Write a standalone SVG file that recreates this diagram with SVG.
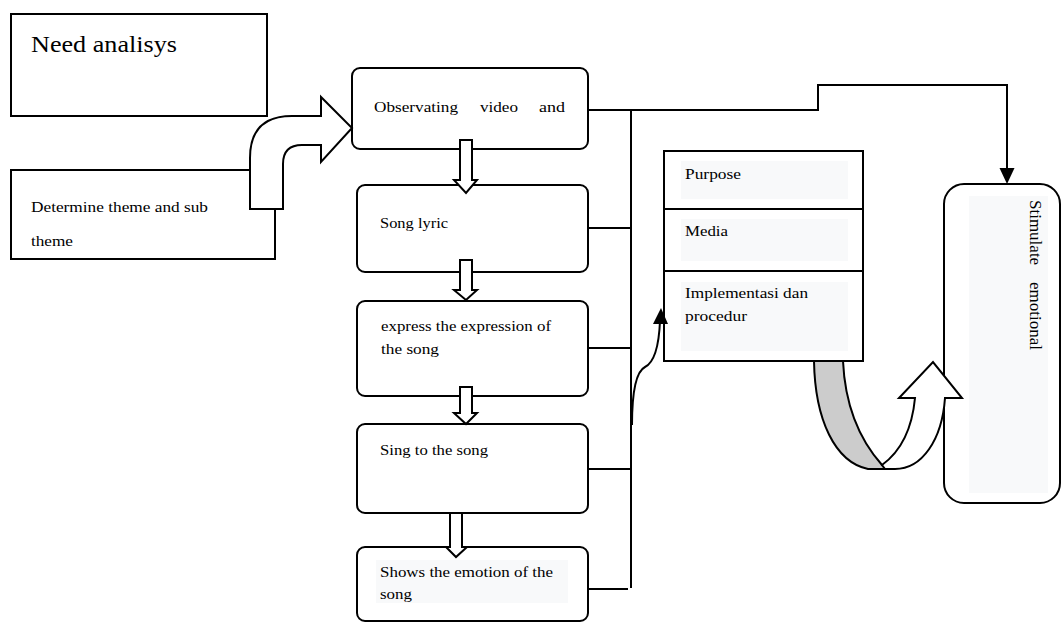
<svg xmlns="http://www.w3.org/2000/svg" width="1064" height="624" viewBox="0 0 1064 624">
<style>
.box{fill:#fff;stroke:#000;stroke-width:2}
.bg{fill:#f8f9fa}
.t{font-family:"Liberation Serif","Times New Roman",serif;fill:#000}
.ln{fill:none;stroke:#000;stroke-width:2}
.blk{fill:#fff;stroke:#000;stroke-width:2;stroke-linejoin:miter}
.head{fill:#000;stroke:none}
</style>

<g id="need-analysis">
<rect class="box" x="11" y="14" width="256" height="102"/>
<text class="t" x="31" y="52" font-size="23" textLength="146" lengthAdjust="spacingAndGlyphs">Need analisys</text>
</g>

<g id="determine">
<rect class="box" x="11" y="170" width="264" height="89"/>
<text class="t" x="31" y="212" font-size="14.5" textLength="177" lengthAdjust="spacingAndGlyphs">Determine theme and sub</text>
<text class="t" x="31" y="246" font-size="14.5" textLength="42" lengthAdjust="spacingAndGlyphs">theme</text>
</g>

<g id="observing">
<rect class="box" x="352" y="68" width="236" height="81" rx="8"/>
<text class="t" x="374" y="112" font-size="15.5" textLength="84" lengthAdjust="spacingAndGlyphs">Observating</text>
<text class="t" x="480" y="112" font-size="15.5" textLength="38" lengthAdjust="spacingAndGlyphs">video</text>
<text class="t" x="539" y="112" font-size="15.5" textLength="26" lengthAdjust="spacingAndGlyphs">and</text>
</g>

<g id="song-lyric">
<rect class="box" x="357" y="185" width="231" height="87" rx="8"/>
<text class="t" x="380" y="228" font-size="15.5" textLength="68" lengthAdjust="spacingAndGlyphs">Song lyric</text>
</g>

<g id="express">
<rect class="box" x="357" y="301" width="231" height="95" rx="8"/>
<text class="t" x="381" y="331" font-size="15.5" textLength="170" lengthAdjust="spacingAndGlyphs">express the expression of</text>
<text class="t" x="381" y="354" font-size="15.5" textLength="58" lengthAdjust="spacingAndGlyphs">the song</text>
</g>

<g id="sing">
<rect class="box" x="357" y="424" width="231" height="89" rx="8"/>
<text class="t" x="380" y="455" font-size="15.5" textLength="108" lengthAdjust="spacingAndGlyphs">Sing to the song</text>
</g>

<g id="shows">
<rect class="box" x="357" y="547" width="231" height="74" rx="8"/>
<rect class="bg" x="376" y="560" width="192" height="43"/>
<text class="t" x="380" y="577" font-size="15.5" textLength="173" lengthAdjust="spacingAndGlyphs">Shows the emotion of the</text>
<text class="t" x="380" y="599" font-size="15.5" textLength="32" lengthAdjust="spacingAndGlyphs">song</text>
</g>

<g id="plan">
<rect class="box" x="664" y="151" width="199" height="210"/>
<line class="ln" x1="664" y1="209" x2="863" y2="209"/>
<line class="ln" x1="664" y1="271" x2="863" y2="271"/>
<rect class="bg" x="681" y="161" width="167" height="38"/>
<rect class="bg" x="681" y="219" width="167" height="42"/>
<rect class="bg" x="681" y="282" width="167" height="69"/>
<text class="t" x="685" y="179" font-size="15.5" textLength="56" lengthAdjust="spacingAndGlyphs">Purpose</text>
<text class="t" x="685" y="236" font-size="15.5" textLength="43" lengthAdjust="spacingAndGlyphs">Media</text>
<text class="t" x="685" y="298" font-size="15.5" textLength="123" lengthAdjust="spacingAndGlyphs">Implementasi dan</text>
<text class="t" x="685" y="321" font-size="15.5" textLength="62" lengthAdjust="spacingAndGlyphs">procedur</text>
</g>

<g id="stimulate">
<rect class="box" x="944" y="184" width="116" height="319" rx="20"/>
<rect class="bg" x="969" y="196" width="79" height="297"/>
<text class="t" transform="translate(1030,200) rotate(90)" font-size="17">Stimulate</text>
<text class="t" transform="translate(1030,282) rotate(90)" font-size="17">emotional</text>
</g>

<g id="connectors">
<path class="blk" d="M250,209 L250,158 Q250,116 292,116 L321,116 L321,97 L352,128 L321,162 L321,145 L302,145 Q283,145 283,164 L283,209 Z"/>
<path class="blk" d="M460,140 L472,140 L472,180 L477,180 L466,193 L454,180 L460,180 Z"/>
<path class="blk" d="M460,260 L472,260 L472,290 L477,290 L466,300 L454,290 L460,290 Z"/>
<path class="blk" d="M460,387 L472,387 L472,413 L477,413 L466,424 L454,413 L460,413 Z"/>
<path class="blk" d="M450,513 L462,513 L462,547 L467,547 L456,557 L446,547 L450,547 Z"/>
<line class="ln" x1="631" y1="110" x2="631" y2="588"/>
<path class="ln" d="M588,110 L818,110 L818,85 L1007,85 L1007,170"/>
<polygon class="head" points="999.5,168 1014.5,168 1007,184"/>
<line class="ln" x1="588" y1="228" x2="631" y2="228"/>
<line class="ln" x1="588" y1="348" x2="631" y2="348"/>
<line class="ln" x1="588" y1="469" x2="631" y2="469"/>
<line class="ln" x1="588" y1="589" x2="628" y2="589"/>
<path class="ln" d="M632,425 C632,395 635,372 645,367 C655,362 659,345 660,321"/>
<polygon class="head" points="653,324 668,324 661,308"/>
<path d="M814,361 C815,420 835,462 868,469 L890,469 L882,465 C858,438 845,405 843,361 Z" fill="#cccccc" stroke="#000" stroke-width="2" stroke-linejoin="round"/>
<path d="M882,465 C900,452 912,430 915,398 L899,398 L933,362 L962,398 L945,398 C942,440 922,469 895,469 L885,469 Z" fill="#fff" stroke="#000" stroke-width="2" stroke-linejoin="miter"/>
</g>
</svg>
